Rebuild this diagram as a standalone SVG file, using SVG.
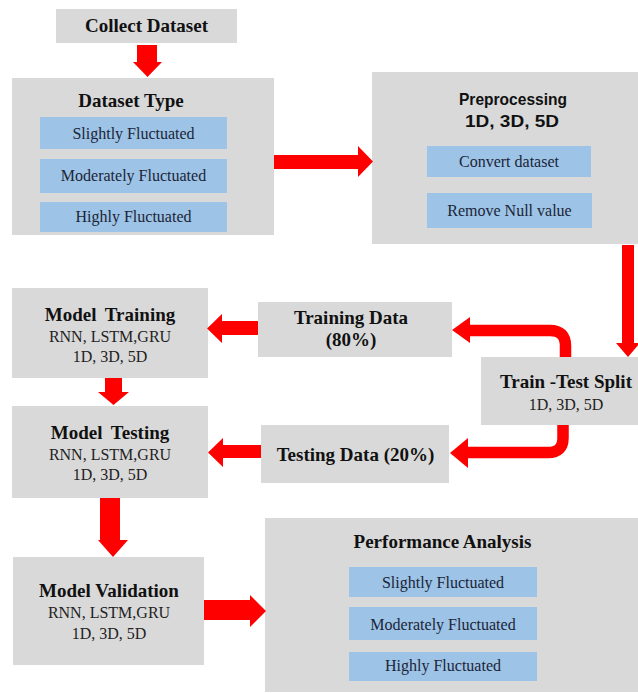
<svg xmlns="http://www.w3.org/2000/svg" width="638" height="693" viewBox="0 0 638 693">
  <style>
    .box { fill: #d9d9d9; }
    .item { fill: #9dc3e6; }
    .title { font-family: "Liberation Serif", "Times New Roman", serif; font-weight: bold; font-size: 19px; fill: #111; text-anchor: middle; }
    .sans { font-family: "Liberation Sans", Arial, sans-serif; font-weight: bold; font-size: 16.5px; fill: #111; text-anchor: middle; }
    .sub { font-family: "Liberation Serif", "Times New Roman", serif; font-size: 16px; fill: #222; text-anchor: middle; }
    .itemtext { font-family: "Liberation Serif", "Times New Roman", serif; font-size: 16px; fill: #1b2538; text-anchor: middle; }
    .arrow { fill: #ff0000; }
    .bend { fill: none; stroke: #ff0000; stroke-width: 11.5; }
  </style>

  <!-- process blocks -->
  <g id="collect-dataset">
    <rect class="box" x="56" y="9" width="181" height="34"/>
    <text class="title" x="146.5" y="32">Collect Dataset</text>
  </g>

  <g id="dataset-type">
    <rect class="box" x="12" y="78" width="262" height="157"/>
    <text class="title" x="131" y="107">Dataset Type</text>
    <rect class="item" x="40" y="117" width="187" height="32"/>
    <text class="itemtext" x="133.5" y="139">Slightly Fluctuated</text>
    <rect class="item" x="40" y="159" width="187" height="34"/>
    <text class="itemtext" x="133.5" y="181">Moderately Fluctuated</text>
    <rect class="item" x="40" y="202" width="187" height="30"/>
    <text class="itemtext" x="133.5" y="222">Highly Fluctuated</text>
  </g>

  <g id="preprocessing">
    <rect class="box" x="372" y="72" width="266" height="172"/>
    <text class="sans" x="513" y="105" textLength="108" lengthAdjust="spacingAndGlyphs">Preprocessing</text>
    <text class="sans" x="512" y="127" textLength="94" lengthAdjust="spacingAndGlyphs">1D, 3D, 5D</text>
    <rect class="item" x="427" y="146" width="164" height="31"/>
    <text class="itemtext" x="509" y="167">Convert dataset</text>
    <rect class="item" x="427" y="193" width="165" height="35"/>
    <text class="itemtext" x="509.5" y="216">Remove Null value</text>
  </g>

  <g id="train-test-split">
    <rect class="box" x="481" y="357" width="157" height="68"/>
    <text class="title" x="566" y="388">Train -Test Split</text>
    <text class="sub" x="566" y="410">1D, 3D, 5D</text>
  </g>

  <g id="training-data">
    <rect class="box" x="258" y="302" width="194" height="55"/>
    <text class="title" x="351" y="324">Training Data</text>
    <text class="title" x="351" y="346">(80%)</text>
  </g>

  <g id="testing-data">
    <rect class="box" x="261" y="425" width="188" height="58"/>
    <text class="title" x="355.5" y="461">Testing Data (20%)</text>
  </g>

  <g id="model-training">
    <rect class="box" x="12" y="288" width="196" height="90"/>
    <text class="title" x="110" y="321" word-spacing="4">Model Training</text>
    <text class="sub" x="110" y="342">RNN, LSTM,GRU</text>
    <text class="sub" x="110" y="362">1D, 3D, 5D</text>
  </g>

  <g id="model-testing">
    <rect class="box" x="12" y="406" width="196" height="92"/>
    <text class="title" x="110" y="439" word-spacing="4">Model Testing</text>
    <text class="sub" x="110" y="460">RNN, LSTM,GRU</text>
    <text class="sub" x="110" y="480">1D, 3D, 5D</text>
  </g>

  <g id="model-validation">
    <rect class="box" x="13" y="557" width="191" height="108"/>
    <text class="title" x="109" y="597">Model Validation</text>
    <text class="sub" x="109" y="618">RNN, LSTM,GRU</text>
    <text class="sub" x="109" y="639">1D, 3D, 5D</text>
  </g>

  <g id="performance-analysis">
    <rect class="box" x="265" y="518" width="373" height="174"/>
    <text class="title" x="442.5" y="548">Performance Analysis</text>
    <rect class="item" x="349" y="567" width="188" height="30"/>
    <text class="itemtext" x="443" y="588">Slightly Fluctuated</text>
    <rect class="item" x="349" y="607" width="188" height="33"/>
    <text class="itemtext" x="443" y="630">Moderately Fluctuated</text>
    <rect class="item" x="349" y="652" width="188" height="29"/>
    <text class="itemtext" x="443" y="671">Highly Fluctuated</text>
  </g>

  <!-- block arrows -->
  <g id="connectors">
    <!-- collect -> dataset type -->
    <polygon class="arrow" points="137,45 157,45 157,62 162,62 147.5,77 133,62 137,62"/>
    <!-- dataset type -> preprocessing -->
    <polygon class="arrow" points="274,155 358,155 358,146 373,161.5 358,177 358,169 274,169"/>
    <!-- preprocessing -> train/test split -->
    <polygon class="arrow" points="622,245 634,245 634,343 640,343 628,357 616,343 622,343"/>
    <!-- split -> training data (bent) -->
    <path class="bend" d="M565.5 357 V346 Q565.5 330.5 550 330.5 H468"/>
    <polygon class="arrow" points="452,330 470,317 470,343"/>
    <!-- split -> testing data (bent) -->
    <path class="bend" d="M563 425 V438 Q563 452.5 548 452.5 H466"/>
    <polygon class="arrow" points="450,453 468,438 468,468"/>
    <!-- training data -> model training -->
    <polygon class="arrow" points="258,321 222,321 222,314 207,328.5 222,343 222,335 258,335"/>
    <!-- testing data -> model testing -->
    <polygon class="arrow" points="261,445 223,445 223,438 208,452.5 223,467 223,458 261,458"/>
    <!-- model training -> model testing -->
    <polygon class="arrow" points="105,378 122,378 122,392 129,392 113.5,405 98,392 105,392"/>
    <!-- model testing -> model validation -->
    <polygon class="arrow" points="100,498 120,498 120,540 128,540 113,557 98,540 100,540"/>
    <!-- model validation -> performance analysis -->
    <polygon class="arrow" points="204,600 250,600 250,595 266,611 250,627 250,620 204,620"/>
  </g>
</svg>
